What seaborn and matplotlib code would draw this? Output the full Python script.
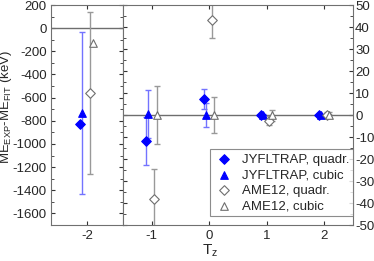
import numpy as np
import pandas as pd
import matplotlib
matplotlib.use("Agg")
import matplotlib.pyplot as plt
from matplotlib.ticker import MultipleLocator
import seaborn as sns

sns.set_style("ticks")
plt.rcParams['font.family'] = ['Liberation Sans', 'DejaVu Sans']
plt.rcParams['axes.unicode_minus'] = False
plt.rcParams['mathtext.default'] = 'regular'

# Isospin projections, Tz=-2 goes in the left (large scale) panel
tz = [-2, -1, 0, 1, 2]

jyfl_quadr = [-830, -11.7, 7.3, 0.0, 0.0]
jyfl_quadr_err = [np.nan, 11.0, 4.5, 0.3, 0.3]
jyfl_cubic = [-730, 0.5, 0.0, 0.0, 0.0]
jyfl_cubic_err = [700, 11.0, 5.3, 0.3, 0.3]
ame_quadr = [-560, -38.0, 43.0, -2.5, 0.0]
ame_quadr_err = [700, 13.5, 8.0, 2.0, 1.5]
ame_cubic = [-130, 0.0, 0.0, 0.0, 0.0]
ame_cubic_err = [np.nan, 13.0, 8.0, 2.5, 1.5]

series = [
    ('JYFLTRAP, quadr.', jyfl_quadr, jyfl_quadr_err, 'D', '#0000ff', '#0000ff', '#7373ff', -0.10),
    ('JYFLTRAP, cubic', jyfl_cubic, jyfl_cubic_err, '^', '#0000ff', '#0000ff', '#7373ff', -0.065),
    ('AME12, quadr.', ame_quadr, ame_quadr_err, 'D', 'white', '#6e6e6e', '#999999', 0.04),
    ('AME12, cubic', ame_cubic, ame_cubic_err, '^', 'white', '#6e6e6e', '#999999', 0.09),
]

fig = plt.figure(figsize=(3.74, 2.61), dpi=100)
axL = fig.add_axes([51 / 374, 36 / 261, 72 / 374, 220 / 261])
axR = fig.add_axes([123 / 374, 36 / 261, 230 / 374, 220 / 261])

for name, vals, errs, mk, fc, ec, errc, off in series:
    df = pd.DataFrame({'Tz': np.array(tz, dtype=float) + off, 'val': vals, 'err': errs})
    left = df[df['Tz'] < -1.5]
    right = df[df['Tz'] >= -1.5]
    for ax, d, lab in [(axL, left, None), (axR, right, name)]:
        ax.errorbar(d['Tz'], d['val'], yerr=d['err'], fmt='none', ecolor=errc,
                    elinewidth=1, capsize=2, capthick=1, zorder=2)
        sns.scatterplot(x='Tz', y='val', data=d, ax=ax, marker=mk, s=24 if mk == 'D' else 30,
                        color=fc, edgecolor=ec, linewidth=0.8, label=lab, zorder=3,
                        legend=lab is not None)

for ax in (axL, axR):
    ax.axhline(0, color='#6e6e6e', lw=1, zorder=1)
    ax.tick_params(direction='in', which='both', top=True, right=True, labelsize=9.5,
                   color='#333333', length=3)
    ax.tick_params(which='minor', length=2)
    for s in ax.spines.values():
        s.set_color('#707070')
    ax.set_xlabel('')
    ax.set_ylabel('')

axL.set_xlim(-2.5, -1.5)
axL.set_ylim(-1700, 200)
axL.set_xticks([-2])
axL.yaxis.set_major_locator(MultipleLocator(200))
axL.yaxis.set_minor_locator(MultipleLocator(100))
axL.tick_params(axis='y', pad=3)

axR.set_xlim(-1.5, 2.5)
axR.set_ylim(-50, 50)
axR.set_xticks([-1, 0, 1, 2])
axR.yaxis.set_major_locator(MultipleLocator(10))
axR.yaxis.set_minor_locator(MultipleLocator(5))
axR.tick_params(axis='y', labelleft=False, labelright=True, pad=1.5)

fig.text(6.5 / 374, 1 - 107 / 261, 'ME$_{EXP}$-ME$_{FIT}$ (keV)', rotation=90,
         ha='center', va='center', fontsize=9.5)
fig.text(210 / 374, 1 - 243 / 261, 'T$_z$', ha='center', va='top', fontsize=11)

leg = axR.legend(loc='lower right', bbox_to_anchor=(1.0, 0.04), fontsize=9.5,
                 frameon=True, fancybox=False, borderpad=0.3, labelspacing=0.25,
                 handletextpad=0.6, borderaxespad=0, handlelength=1.5)
leg.get_frame().set_edgecolor('#707070')
leg.get_frame().set_linewidth(0.8)

fig.savefig('out.png', dpi=100)
